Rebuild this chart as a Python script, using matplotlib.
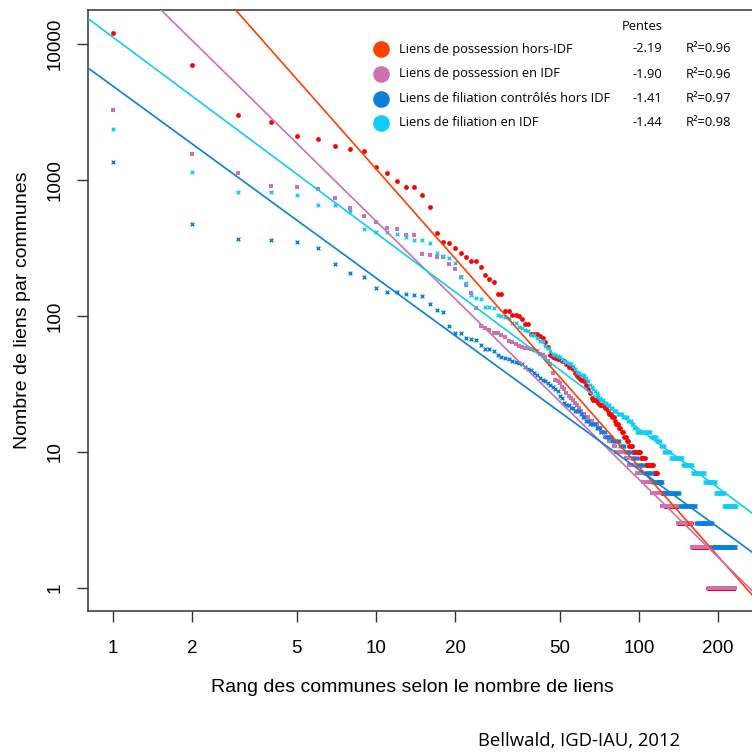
import numpy as np
import matplotlib
matplotlib.use("Agg")
import matplotlib.pyplot as plt
from matplotlib.lines import Line2D

plt.rcParams['font.family'] = ['Liberation Sans', 'DejaVu Sans']

# valeurs (rang 1, 2, 3, ...), puis queue en paliers (valeur, nombre de communes)
red_top = [12000, 7060, 3000, 2670, 2100, 1990, 1770, 1680, 1640, 1250,
           1130, 980, 893, 893, 771, 633, 409, 352, 346, 315,
           290, 271, 255, 254, 230, 200, 188, 178, 145, 144,
           108, 108, 102, 101, 100, 95, 87, 87, 74, 74,
           74, 71, 69, 64, 59, 52, 50, 49, 48, 48,
           47, 47, 44, 42, 42, 41, 38, 36, 35, 34,
           34, 33, 31, 29, 27, 25, 24, 24, 24, 23,
           22, 22, 22, 21, 21, 20, 19, 19, 18, 18,
           17, 16, 16, 15, 15, 14, 14, 13, 13, 12,
           12, 11, 11, 11]
red_tail_vals = [10, 9, 8, 7, 6, 5, 4, 3, 2, 1]
red_tail_counts = [7, 4, 8, 4, 4, 4, 15, 18, 24, 48]

pink_top = [3270, 1545, 1120, 903, 884, 855, 742, 620, 548, 493,
            441, 437, 394, 394, 286, 281, 270, 270, 241, 223,
            195, 168, 147, 114, 85, 81, 79, 75, 75, 72,
            70, 66, 64, 62, 60, 59, 58, 58, 57, 56,
            55, 53, 52, 50, 47, 44, 38, 34, 33, 32,
            30, 29, 27, 26, 25, 24, 23, 22, 21, 20,
            19, 19, 18, 18, 17, 17, 16, 16, 16, 15,
            15, 14, 14, 13, 13, 13, 12, 12, 12]
pink_tail_vals = [11, 10, 9, 8, 7, 6, 5, 4, 3, 2, 1]
pink_tail_counts = [2, 7, 3, 6, 6, 8, 10, 19, 18, 26, 48]

blue_top = [1364, 475, 366, 360, 348, 318, 243, 208, 193, 160,
            149, 149, 145, 143, 141, 122, 111, 107, 84, 75,
            75, 69, 68, 67, 61, 57, 57, 55, 52, 50,
            49, 48, 47, 46, 45, 44, 42, 41, 40, 38,
            37, 35, 34, 33, 32, 31, 30, 29, 28, 26,
            25, 23, 22, 22, 21, 21, 20, 20, 20, 19,
            18, 18, 17, 17, 16, 16, 16, 16, 15, 15,
            15, 14, 14, 14, 13, 13, 13, 13]
blue_tail_vals = [12, 11, 10, 9, 8, 7, 6, 5, 4, 3, 2]
blue_tail_counts = [6, 4, 5, 5, 6, 8, 10, 20, 22, 25, 43]

cyan_top = [2370, 1140, 820, 816, 780, 658, 658, 595, 434, 414,
            414, 401, 383, 362, 362, 346, 289, 276, 266, 247,
            193, 176, 143, 135, 133, 117, 116, 115, 102, 100,
            98, 96, 89, 89, 83, 81, 79, 77, 73, 72,
            69, 66, 65, 60, 58, 55, 53, 52, 51, 50,
            48, 47, 46, 45, 44, 43, 41, 39, 38, 37,
            37, 36, 35, 33, 31, 30, 29, 28, 27, 26,
            25, 24, 24, 23, 23, 22, 22, 21, 21, 20,
            20, 20, 19, 19, 19, 19, 18, 18, 18, 18,
            17, 17, 17, 16, 16, 15, 15]
cyan_tail_vals = [14, 13, 12, 11, 10, 9, 8, 7, 6, 5, 4]
cyan_tail_counts = [13, 6, 4, 4, 7, 15, 13, 18, 18, 15, 23]

# droites d'ajustement log10(y) = a + b*log10(x)
labels = ['Liens de possession hors-IDF', 'Liens de possession en IDF',
          'Liens de filiation contrôlés hors IDF', 'Liens de filiation en IDF']
slopes = [-2.19, -1.90, -1.41, -1.44]
intercepts = [5.272, 4.598, 3.69, 4.05]
r2 = [0.96, 0.96, 0.97, 0.98]

point_colors = ['#ff0000', '#d070b0', '#0a7fdc', '#10cdf8']
line_colors = ['#ff4000', '#cc70b0', '#0a7fdc', '#10cdf8']
legend_colors = ['#ff4000', '#d070b0', '#0a7fdc', '#10cdf8']


def build(top, tail_vals, tail_counts):
    vals = np.concatenate([np.array(top, float), np.repeat(tail_vals, tail_counts).astype(float)])
    ranks = np.arange(1, len(vals) + 1)
    return ranks, vals


series = [build(red_top, red_tail_vals, red_tail_counts),
          build(pink_top, pink_tail_vals, pink_tail_counts),
          build(blue_top, blue_tail_vals, blue_tail_counts),
          build(cyan_top, cyan_tail_vals, cyan_tail_counts)]

fig = plt.figure(figsize=(7.52, 7.56), dpi=100)
ax = fig.add_axes([88 / 752, 145 / 756, 664 / 752, 601 / 756])

# points
ax.scatter(*series[0], s=12, color=point_colors[0], marker='o', linewidths=0, zorder=3)
ax.scatter(*series[1], s=6, color=point_colors[1], marker='s', linewidths=0, zorder=3)
ax.scatter(*series[2], s=7, color=point_colors[2], marker='x', linewidths=1.0, zorder=3)
ax.scatter(*series[3], s=7, color=point_colors[3], marker='x', linewidths=1.0, zorder=3)

# droites
xfit = np.logspace(-0.2, 2.6, 50)
for a, b, c in zip(intercepts, slopes, line_colors):
    ax.plot(xfit, 10 ** (a + b * np.log10(xfit)), color=c, lw=1.2, zorder=4)

ax.set_xscale('log')
ax.set_yscale('log')
ax.set_xlim(10 ** -0.095, 10 ** 2.4297)
ax.set_ylim(10 ** -0.169, 10 ** 4.25)

xticks = [1, 2, 5, 10, 20, 50, 100, 200]
yticks = [1, 10, 100, 1000, 10000]
ax.set_xticks(xticks)
ax.set_xticklabels([str(t) for t in xticks])
ax.set_yticks(yticks)
ax.set_yticklabels([str(t) for t in yticks], rotation=90, va='center')
ax.minorticks_off()
ax.tick_params(axis='both', direction='out', length=8, width=1, labelsize=13.5, color='#333333')
ax.tick_params(axis='x', pad=13)
ax.tick_params(axis='y', pad=9.5)
ax.spines['right'].set_visible(False)
for s in ['left', 'top', 'bottom']:
    ax.spines[s].set_linewidth(1.1)
    ax.spines[s].set_color('#333333')

ax.set_xlabel('Rang des communes selon le nombre de liens', fontsize=14)
ax.xaxis.set_label_coords(0.488, -0.113)
ax.set_ylabel('Nombre de liens par communes', fontsize=14)
ax.yaxis.set_label_coords(-0.099, 0.5)
ax.yaxis.label.set_va('center')

# légende manuelle
leg_font = 'Open Sans'
fs = 9.3
fig.text(641.7 / 752, 1 - 26 / 756, 'Pentes', fontsize=fs, family=leg_font, ha='center', va='center')
ys = [49, 74, 98.5, 123]
for y, lab, sl, r, col in zip(ys, labels, slopes, r2, legend_colors):
    fy = 1 - y / 756
    fig.add_artist(Line2D([381 / 752], [fy], marker='o', markersize=12, color=col,
                          markeredgewidth=0, linestyle='none'))
    fig.text(399 / 752, fy, lab, fontsize=fs, family=leg_font, ha='left', va='center')
    fig.text(662 / 752, fy, f'{sl:.2f}', fontsize=fs, family=leg_font, ha='right', va='center')
    fig.text(686 / 752, fy, f'R²={r:.2f}', fontsize=fs, family=leg_font, ha='left', va='center')

fig.text(579 / 752, 1 - 741 / 756, 'Bellwald, IGD-IAU, 2012', fontsize=13.3, family=leg_font,
         ha='center', va='center')

fig.savefig('out.png', dpi=100)
